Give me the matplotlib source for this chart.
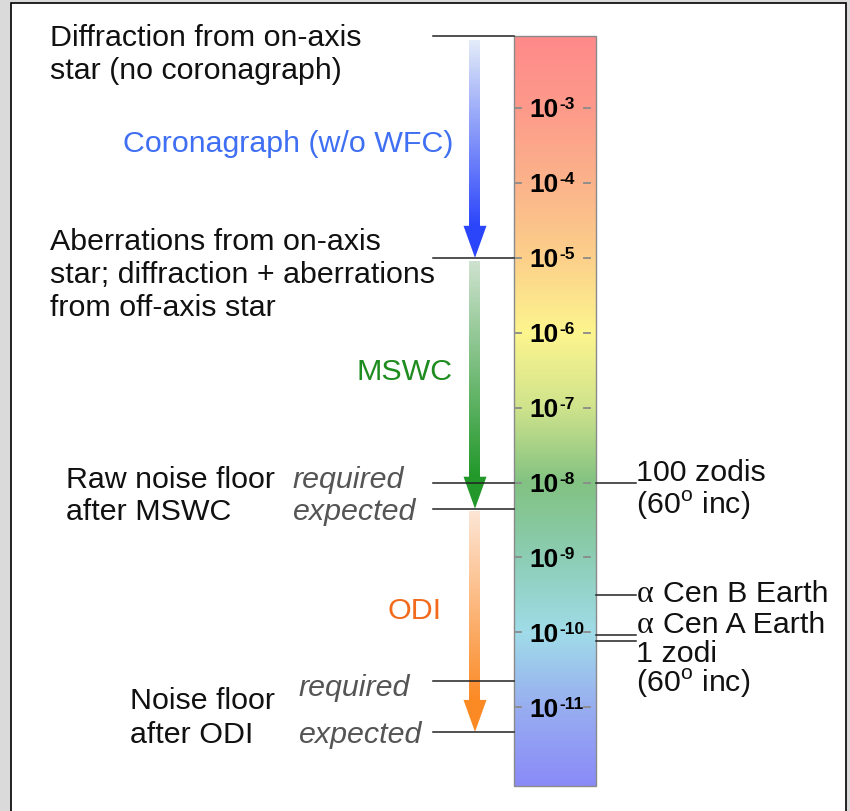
import numpy as np
import matplotlib.pyplot as plt
from matplotlib.patches import Rectangle, Polygon
from matplotlib.colors import to_rgb

plt.rcParams['font.family'] = ['Liberation Sans', 'DejaVu Sans']

# contrast scale, values are log10 exponents
decades = [-3, -4, -5, -6, -7, -8, -9, -10, -11]
bar_top, bar_bottom = -2.04, -12.05

# floors on the left side
diffraction = -2.04
aberrations = -5.0
mswc_required, mswc_expected = -8.0, -8.35
odi_required, odi_expected = -10.65, -11.33

# references on the right side
zodi_100 = -8.0
acen_b = -9.5
acen_a = -10.03
zodi_1 = -10.12

# colour of the bar along the scale
bar_stops = [-2.04, -3, -4, -5, -6, -7, -8, -9, -10, -11, -12.05]
bar_colors = ['#ff8a8a', '#fd9a8a', '#fbb38b', '#fcd08a', '#fdf58e', '#cfe38c',
              '#82c282', '#8ccdb4', '#a0dce8', '#98aef0', '#8a8af8']

# figure, one axes over everything, x in pixels, y in log10 contrast
PX = 74.9  # pixels per decade
fig = plt.figure(figsize=(8.5, 8.12), dpi=100, facecolor='#dadada')
ax = fig.add_axes([0, 0, 1, 1])
ax.axis('off')


def yp(p):
    # pixel row -> exponent, for placing text
    return -3 - (p - 109) / PX


ax.add_patch(Rectangle((11, yp(840)), 835, yp(4) - yp(840), facecolor='white',
                       edgecolor='black', lw=1.2, zorder=0))

# gradient bar
ys = np.linspace(bar_top, bar_bottom, 500)
rgb = np.array([to_rgb(c) for c in bar_colors])
stops = np.array(bar_stops)[::-1]
img = np.stack([np.interp(ys, stops, rgb[::-1, k]) for k in range(3)], axis=1)
ax.imshow(img[:, None, :], extent=[514, 596, bar_bottom, bar_top], aspect='auto',
          origin='upper', zorder=1)
ax.add_patch(Rectangle((514, bar_bottom), 82, bar_top - bar_bottom, fill=False,
                       edgecolor='#8a8a8a', lw=1.0, zorder=2))

tick_font = ['Liberation Sans Narrow', 'Liberation Sans']
for d in decades:
    ax.plot([516, 521], [d, d], color='#8a8a8a', lw=1.3, zorder=3)
    ax.plot([584, 590], [d, d], color='#8a8a8a', lw=1.3, zorder=3)
    ax.text(529, d - 8.5 / PX, '10', fontsize=19, fontweight='bold', family=tick_font,
            va='baseline', zorder=4)
    ax.text(559, d - 0.5 / PX, str(d), fontsize=12.5, fontweight='bold', family=tick_font,
            va='baseline', zorder=4)


# gradient arrows
def arrow(x, y0, tip, light, dark, head_len=32, head_w=23, shaft_w=11):
    head_top = tip + head_len / PX
    n = 300
    t = np.linspace(0, 1, n)[:, None]
    c = (1 - t) * np.array(to_rgb(light)) + t * np.array(to_rgb(dark))
    ax.imshow(c[:, None, :], extent=[x - shaft_w / 2, x + shaft_w / 2, head_top, y0],
              aspect='auto', origin='upper', zorder=2)
    ax.add_patch(Polygon([(x - head_w / 2, head_top), (x + head_w / 2, head_top), (x, tip)],
                         closed=True, facecolor=dark, edgecolor='none', zorder=3))


arrow(475, diffraction - 4 / PX, aberrations, '#e4ecf8', '#2b45fb')
arrow(475, aberrations - 3 / PX, mswc_expected, '#cfe2cf', '#22982a')
arrow(475, mswc_expected - 3 / PX, odi_expected, '#fde6d6', '#fb8a25')

# level lines
line_kw = dict(color='#222222', lw=1.1, zorder=3)
for lv in [diffraction, aberrations, mswc_required, mswc_expected, odi_required, odi_expected]:
    ax.plot([433, 514], [lv, lv], **line_kw)
for lv in [zodi_100, acen_b, acen_a, zodi_1]:
    ax.plot([596, 636], [lv, lv], **line_kw)

# texts
FS = 21.9
black = '#111111'


def lines(x, baselines, texts, **kw):
    kw.setdefault('color', black)
    kw.setdefault('fontsize', FS)
    for b, s in zip(baselines, texts):
        ax.text(x, yp(b), s, va='baseline', **kw)


lines(50, [46, 79], ['Diffraction from on-axis', 'star (no coronagraph)'])
lines(453, [152], ['Coronagraph (w/o WFC)'], color='#3f6ff2', ha='right')
lines(50, [250, 283, 316], ['Aberrations from on-axis', 'star; diffraction + aberrations',
                            'from off-axis star'])
lines(453, [380], ['MSWC'], color='#1f8c1f', ha='right')
lines(66, [488, 520], ['Raw noise floor', 'after MSWC'])
lines(293, [488, 520], ['required', 'expected'], color='#555555', style='italic')
lines(442, [619], ['ODI'], color='#f26b1d', ha='right')
lines(130, [709, 743], ['Noise floor', 'after ODI'])
lines(299, [696, 743], ['required', 'expected'], color='#555555', style='italic')

inc = r'(60$^{\mathregular{o}}$ inc)'
lines(636, [481, 514], ['100 zodis', inc])
lines(637, [602, 633], ['α', 'α'], family='Liberation Serif', fontsize=23)
lines(663, [602, 633], ['Cen B Earth', 'Cen A Earth'])
lines(636, [662, 692], ['1 zodi', inc])

ax.set_xlim(0, 850)
ax.set_ylim(yp(812), yp(0))
fig.savefig('out.png', dpi=100, facecolor=fig.get_facecolor())
